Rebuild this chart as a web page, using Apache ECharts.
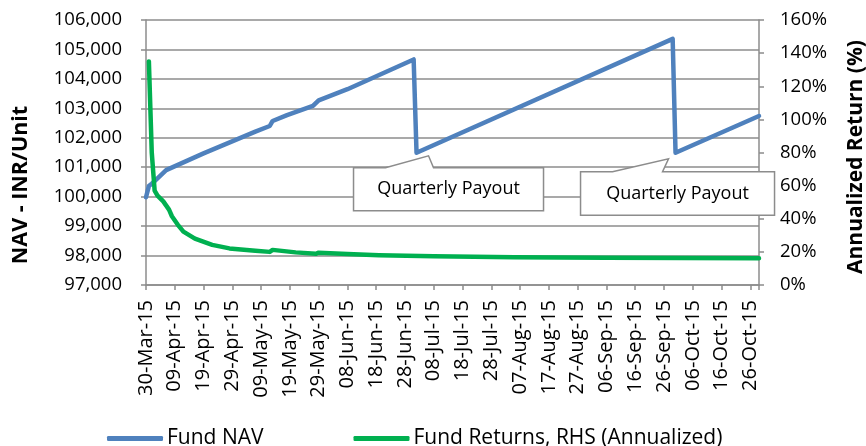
<!DOCTYPE html>
<html>
<head>
<meta charset="utf-8">
<script src="https://cdn.jsdelivr.net/npm/echarts@6/dist/echarts.min.js"></script>
<style>
html,body{margin:0;padding:0;background:#fff;}
#c{width:866px;height:446px;}
</style>
</head>
<body>
<div id="c"></div>
<script>
// ---- data ----
const startDate = '2015-03-30';
const endDate = '2015-10-29';
const tickLabels = ['30-Mar-15','09-Apr-15','19-Apr-15','29-Apr-15','09-May-15','19-May-15','29-May-15',
  '08-Jun-15','18-Jun-15','28-Jun-15','08-Jul-15','18-Jul-15','28-Jul-15','07-Aug-15','17-Aug-15',
  '27-Aug-15','06-Sep-15','16-Sep-15','26-Sep-15','06-Oct-15','16-Oct-15','26-Oct-15'];
const navDates  = ['2015-03-30','2015-03-31','2015-04-01','2015-04-02','2015-04-06','2015-04-19','2015-05-07',
  '2015-05-12','2015-05-13','2015-05-18','2015-05-27','2015-05-29','2015-06-08','2015-06-19','2015-07-01',
  '2015-07-02','2015-09-29','2015-09-30','2015-10-29'];
const navValues = [99980,100360,100440,100530,100900,101470,102210,
  102400,102570,102770,103080,103270,103650,104130,104660,
  101490,105360,101490,102740];
const retDates  = ['2015-03-31','2015-04-01','2015-04-02','2015-04-03','2015-04-05','2015-04-07','2015-04-08',
  '2015-04-10','2015-04-12','2015-04-16','2015-04-22','2015-04-28','2015-05-07','2015-05-12','2015-05-13',
  '2015-05-21','2015-05-28','2015-05-29','2015-06-08','2015-06-19','2015-07-08','2015-08-05','2015-09-06','2015-10-29'];
const retValues = [135,80,57,54,50.5,45.5,41.5,
  36.5,32.2,28,24.2,22.1,20.7,20.0,21.2,
  19.7,18.8,19.5,18.7,18.0,17.4,16.7,16.4,16.2];
const payoutDates = ['2015-07-02','2015-09-30'];
const payoutLabel = 'Quarterly Payout';
const seriesNames = ['Fund NAV','Fund Returns, RHS (Annualized)'];
const leftTitle = 'NAV - INR/Unit';
const rightTitle = 'Annualized Return (%)';

// ---- helpers ----
const DAY = 86400000;
function dayIndex(d){ return Math.round((Date.parse(d+'T00:00:00Z') - Date.parse(startDate+'T00:00:00Z'))/DAY); }
const FONT = 'Open Sans';
const GRAY = '#8c8c8c';

const chart = echarts.init(document.getElementById('c'), null, {renderer:'canvas'});
chart.setOption({
  animation:false,
  backgroundColor:'#fff',
  grid:{left:146, right:107, top:20, bottom:161, containLabel:false},
  legend:{
    left:102, top:423, itemWidth:56, itemHeight:5, itemGap:90, icon:'roundRect',
    textStyle:{fontFamily:FONT, fontSize:21, color:'#000', padding:[0,0,0,-1]},
    data:seriesNames
  },
  xAxis:{
    type:'value', min:0, max:dayIndex(endDate), interval:10,
    splitLine:{show:false},
    axisLine:{show:true, lineStyle:{color:GRAY, width:1.5}},
    axisTick:{show:true, length:5, lineStyle:{color:GRAY, width:1.5}},
    axisLabel:{rotate:90, margin:15, fontFamily:FONT, fontSize:20, color:'#000',
      formatter:function(v){ return (v%10===0 && tickLabels[v/10]) ? tickLabels[v/10] : ''; }}
  },
  yAxis:[{
    type:'value', min:97000, max:106000, interval:1000,
    splitLine:{show:true, lineStyle:{color:GRAY, width:1.5}},
    axisLine:{show:true, lineStyle:{color:GRAY, width:1.5}},
    axisTick:{show:true, length:5, lineStyle:{color:GRAY, width:1.5}},
    axisLabel:{margin:24, fontFamily:FONT, fontSize:18.5, color:'#000',
      formatter:function(v){ return v.toLocaleString('en-US'); }}
  },{
    type:'value', position:'right', min:0, max:160, interval:20,
    splitLine:{show:false},
    axisLine:{show:true, lineStyle:{color:GRAY, width:1.5}},
    axisTick:{show:true, length:5, lineStyle:{color:GRAY, width:1.5}},
    axisLabel:{margin:21, fontFamily:FONT, fontSize:18.5, color:'#000', formatter:'{value}%'}
  }],
  series:[{
    name:seriesNames[0], type:'line', yAxisIndex:0, showSymbol:false, z:3,
    color:'#4F81BD', lineStyle:{color:'#4F81BD', width:4.5, join:'round', cap:'round'},
    data:navDates.map(function(d,i){ return [dayIndex(d), navValues[i]]; })
  },{
    name:seriesNames[1], type:'line', yAxisIndex:1, showSymbol:false, z:4,
    color:'#00B050', lineStyle:{color:'#00B050', width:4.5, join:'round', cap:'round'},
    data:retDates.map(function(d,i){ return [dayIndex(d), retValues[i]]; })
  }]
});

// callouts anchored to the payout data points
const calloutShapes = [
  {l:-63, r:127, t:15, b:58, bl:-31, br:17, tx:12, ty:3},
  {l:-95, r:99, t:19, b:62.5, bl:-63, br:-13, tx:-7, ty:6}
];
const graphics = [
  {type:'text', rotation:Math.PI/2, x:21, y:185, z:10,
    style:{text:leftTitle, font:'bold 21.5px "'+FONT+'"', fill:'#000', align:'center', verticalAlign:'middle'}},
  {type:'text', rotation:Math.PI/2, x:856, y:157, z:10,
    style:{text:rightTitle, font:'bold 21px "'+FONT+'"', fill:'#000', align:'center', verticalAlign:'middle'}}
];
payoutDates.forEach(function(d, k){
  const idx = navDates.indexOf(d);
  const p = chart.convertToPixel({xAxisIndex:0, yAxisIndex:0}, [dayIndex(d), navValues[idx]]);
  const s = calloutShapes[k];
  const ax = p[0], ay = p[1];
  const L = ax+s.l, R = ax+s.r, T = ay+s.t, B = ay+s.b;
  graphics.push({type:'polygon', z:1,
    shape:{points:[[L,T],[ax+s.bl,T],[ax+s.tx,ay+s.ty],[ax+s.br,T],[R,T],[R,B],[L,B]]},
    style:{fill:'#fff', stroke:GRAY, lineWidth:1.5}});
  graphics.push({type:'text', z:2, x:(L+R)/2, y:(T+B)/2,
    style:{text:payoutLabel, font:'18px "'+FONT+'"', fill:'#000', align:'center', verticalAlign:'middle'}});
});
chart.setOption({graphic:graphics});
</script>
</body>
</html>
